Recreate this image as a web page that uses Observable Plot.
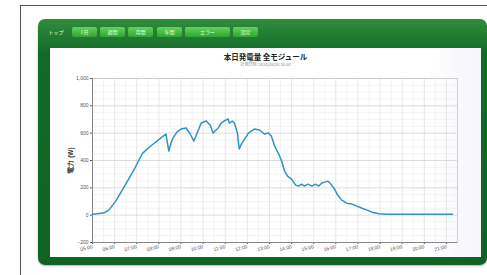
<!DOCTYPE html>
<html><head><meta charset="utf-8">
<script src="https://cdn.jsdelivr.net/npm/d3@7"></script>
<script src="https://cdn.jsdelivr.net/npm/@observablehq/plot@0.6"></script>
<style>
html,body{margin:0;padding:0;background:#fff;width:487px;height:275px;overflow:hidden;font-family:"Noto Sans CJK JP","Noto Sans",sans-serif;}
#outer{position:absolute;left:20px;top:5px;width:500px;height:300px;border-left:1px solid #5b4d45;border-top:1px solid #5b4d45;}
#panel{position:absolute;left:38px;top:19px;width:449px;height:246px;border-radius:7px;background:linear-gradient(#2f8d3c,#136a28 14%,#0f6325);box-shadow:0 1px 2px rgba(0,0,0,.3);}
.tab{position:absolute;top:8px;height:10px;border-radius:2px;background:linear-gradient(#63d359,#2fa537);color:#e9ffe6;font-size:5px;line-height:10px;text-align:center;}
.tab.first{background:none;}
#inner{position:absolute;left:50px;top:48px;width:431px;height:209px;background:linear-gradient(90deg,#fff 88%,#f4f4fb);}
#title{position:absolute;left:50px;top:52px;width:431px;text-align:center;font-size:7.5px;font-weight:bold;color:#222;line-height:9px;}
#sub{position:absolute;left:50px;top:62px;width:431px;text-align:center;font-size:4px;color:#888;line-height:5px;}
#chart{position:absolute;left:50px;top:70px;}
#chart [aria-label="y-axis label"] text{font-size:6.5px;font-weight:bold;fill:#333;}
</style></head>
<body>
<div id="outer"></div>
<div id="panel">
  <div class="tab first" style="left:10px;width:16px">トップ</div>
  <div class="tab" style="left:34px;width:25px">1日</div>
  <div class="tab" style="left:62px;width:25px">週間</div>
  <div class="tab" style="left:90px;width:25px">月間</div>
  <div class="tab" style="left:119px;width:25px">年間</div>
  <div class="tab" style="left:147px;width:45px">エラー</div>
  <div class="tab" style="left:195px;width:25px">設定</div>
</div>
<div id="inner"></div>
<div id="title">本日発電量 全モジュール</div>
<div id="sub">計測日時: 2014/08/20 18:30</div>
<div id="chart"></div>
<script>
const times = ["05:00","05:30","05:44","06:03","06:19","06:35","06:55","07:16","07:38","08:05","08:19","08:27","08:33","08:38","08:49","09:00","09:14","09:25","09:35","09:46","09:55","10:08","10:19","10:27","10:35","10:41","10:49","10:57","11:08","11:11","11:19","11:25","11:33","11:38","11:44","11:49","12:03","12:19","12:33","12:46","12:57","13:05","13:14","13:25","13:33","13:41","13:49","14:00","14:11","14:19","14:27","14:35","14:44","14:55","15:05","15:14","15:22","15:30","15:38","15:44","15:55","16:05","16:16","16:30","16:44","16:57","17:11","17:25","17:38","17:57","18:18","21:16"];
const power = [7,15,37,103,176,249,345,454,506,564,594,469,528,564,608,630,638,594,542,616,674,689,660,601,623,638,674,689,704,674,689,674,601,484,520,542,601,630,623,594,601,579,506,447,396,323,286,264,220,213,227,213,227,213,227,213,235,242,249,235,198,147,110,88,81,66,51,37,22,11,7,7];
const yTicks = [-200,0,200,400,600,800,1000];
const yMinor = [-150,-100,-50,50,100,150,250,300,350,450,500,550,650,700,750,850,900,950];
const xStart = "05:00", xEnd = "21:30";
const yLabel = "電力 (W)";

const parse = d3.utcParse("%H:%M");
const data = times.map((t,i)=>({t:parse(t), v:power[i]}));
const hours = d3.utcHour.range(parse("05:00"), parse("21:01"));
const halfHours = d3.utcMinute.every(30).range(parse("05:00"), parse("21:31")).filter(d=>d.getUTCMinutes()===30);

const chart = Plot.plot({
  width:431, height:188,
  marginLeft:42, marginRight:24, marginTop:8, marginBottom:16,
  style:{fontSize:"5px", color:"#555", background:"transparent", fontFamily:"Liberation Sans, sans-serif"},
  x:{type:"utc", domain:[parse(xStart), parse(xEnd)]},
  y:{domain:[-200,1000]},
  marks:[
    Plot.ruleY(yMinor,{stroke:"#ececec", strokeWidth:0.6}),
    Plot.ruleX(halfHours,{stroke:"#ececec", strokeWidth:0.6}),
    Plot.ruleX(hours,{stroke:"#dcdcdc", strokeWidth:0.7}),
    Plot.ruleY(yTicks,{stroke:"#cfcfcf", strokeWidth:0.7}),
    Plot.frame({stroke:"#d0d0d0"}),
    Plot.axisY({ticks:yTicks, tickFormat:d=>d3.format(",")(d), tickSize:2, tickPadding:2, label:yLabel, labelAnchor:"center", labelOffset:24, labelArrow:"none"}),
    Plot.axisX({ticks:hours, tickFormat:d3.utcFormat("%H:%M"), tickSize:2, tickPadding:2, tickRotate:-15, label:null}),
    Plot.ruleX([parse(xStart)],{stroke:"#888"}),
    Plot.ruleY([-200],{stroke:"#888"}),
    Plot.line(data,{x:"t", y:"v", stroke:"#2f93c8", strokeWidth:1.5, strokeLinejoin:"round"})
  ]
});
document.getElementById("chart").appendChild(chart);
</script>
</body></html>
